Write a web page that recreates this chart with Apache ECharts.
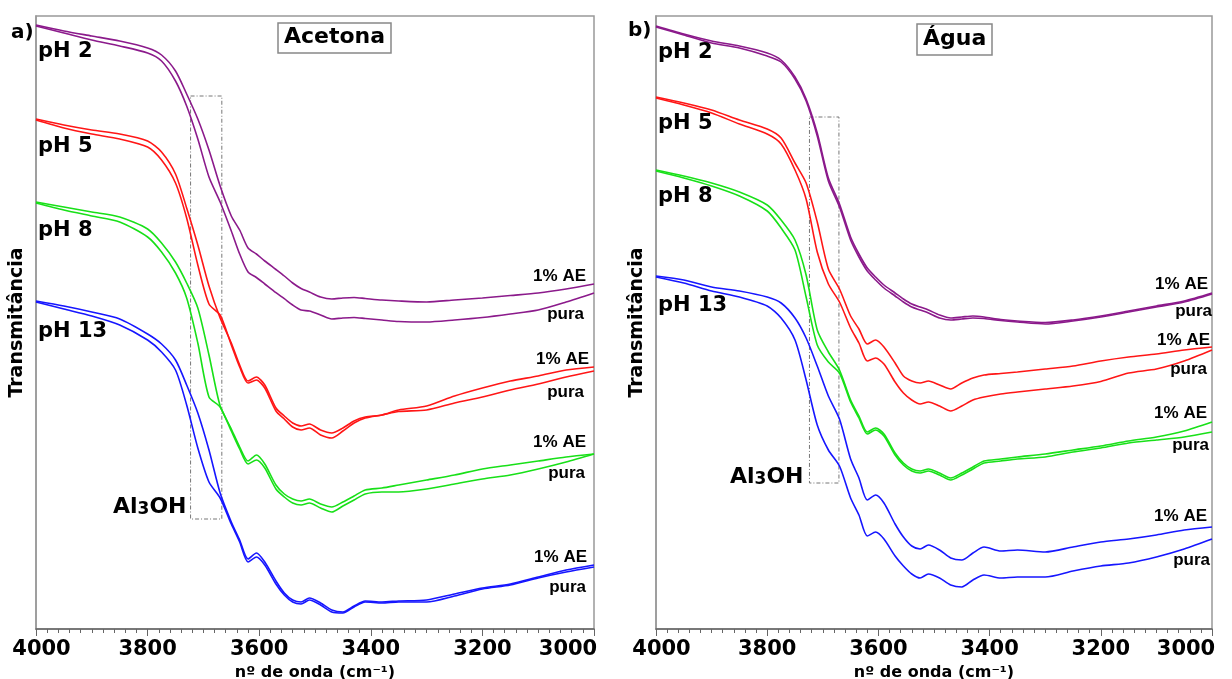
<!DOCTYPE html>
<html><head><meta charset="utf-8">
<script src="https://cdn.jsdelivr.net/npm/echarts@6/dist/echarts.min.js"></script>
<style>html,body{margin:0;padding:0;background:#fff}#c{width:1232px;height:679px}</style>
</head><body><div id="c"></div>
<script>
// ---------- DATA ----------
const wavenumbers = [4000,3950,3900,3850,3800,3775,3750,3730,3710,3690,3670,3650,3635,3620,3605,3590,3570,3555,3540,3525,3510,3490,3470,3450,3430,3410,3380,3350,3300,3250,3200,3150,3100,3050,3000];
const xTicks = [4000,3800,3600,3400,3200,3000];

// a) Acetona (transmittance, arbitrary offset units)
const acetona_pH2_AE   = [604,598,593,588,581,574,558,535,510,479,443,413,399,381,375,368,359.5,353,346,340.5,337,332,330,331,331.5,330.5,329,328,327,329,331,333.5,336,340,345];
const acetona_pH2_pura = [603,596,589,583,576,568,548,523,490,452,427,398,375,357,351.5,345,336.3,330.3,324,319,318,314,310,311,311.5,310.5,309,307.5,307,309,311.5,315,319,327,336];
const acetona_pH5_AE   = [510,504,499,495,488,477,455,421,384,343,311,286,264,248,252,244,221,213,206,203,205,199,196,201,208,212,214,219,223,233,241,248,253,259,262];
const acetona_pH5_pura = [509,501,495,490,482,469,446,411,364,325,314,284,262,246,249,241,218,210,202,199,201,194,191,198,206,211,214,217.5,219,226,232,239,245,252,258];
const acetona_pH8_AE   = [427,422,417,412,400,386,367,346,321,274,223,200,182,168,174,165,144,135,130,128,130,125,122,127,133,139,141,144,149,154,160,164,168,172,175];
const acetona_pH8_pura = [426,419,413,407,392,377,356,331,286,232,222,198,180,165,169,161,140,132,126,124,126,121,117,123,129,135,137,137,140,145,150,154,160,167,175];
const acetona_pH13_AE  = [328,323,317,310,295,285,269,244,216,179,136,107,89,70,76,67,48,36,29,27,31,26,19,17,23,28,27,28,29,35,41,45,52,59,64];
const acetona_pH13_pura= [327,320,313,304,289,277,259,224,181,147,131,105,87,67,72,64,45,34,27,25,29,24,17,16,22,27,26,27,27,33,40,44,51,57,62];

// b) Água
const agua_pH2_AE   = [603,595,588,583,576,569,552,530,496,451,425,392,375,361,352,344,336,330,325,322,319,314,311,312,313,312,309.5,308,306.5,309,313,318,323,328,336];
const agua_pH2_pura = [602,594,586,581,573,567,550,528,493,448,422,389,372,358,349,341,333,327,322,319,316,311,309,310,311,310.5,308.5,307,305,308,312,317,322,327,335];
const agua_pH5_AE   = [532,526,519,509,500,491,466,446,407,360,340,313,300,285,289,282,266,253,248,246,248,244,240,246,251,254,255.5,257,260,263,268,272,275,279,282];
const agua_pH5_pura = [531,524,516,505,495,485,459,430,377,345,327,301,286,268,271,265,247,236,229,225,227,223,218,223,229,232,235,237,240,243,247.5,256,260,268,279];
const agua_pH8_AE   = [459,453,446,437,424,409,389,354,299,277,259,229,213,197,201,195,176,166,160,158,160,156,151,156,162,168,170,172,175,179,183,188,192,198,207];
const agua_pH8_pura = [458,451,443,433,418,401,379,332,284,267,256,227,211,195,199,193,174,164,158,156,158,154,149,154,160,166,168,170,172,177,181,186,189,192,197];
const agua_pH13_AE  = [353,349,342,338,332,326,311,291,263,233,210,170,151,129,134,126,105,92,83,80,84,79,71,69,76,82,78,79,77,82,87,90,94,99,102];
const agua_pH13_pura= [352,346,338,332,323,311,289,249,204,179,163,131,114,93,97,90,73,63,55,51,55,51,44,42,49,54,51,52,52,58,63,66,72,80,90];

// Al3OH region boxes [wn1, T1, wn2, T2]
const boxAcetona = [3723, 533, 3667, 110];
const boxAgua    = [3724, 512, 3671, 146];

// ---------- STYLE / LAYOUT ----------
const FONT = 'DejaVu Sans';
const COL = {pH2:'#8b1a8b', pH5:'#ff1616', pH8:'#18e018', pH13:'#1616ff'};
const grids = [
  {left:36, top:16, width:558, height:613, show:true, borderColor:'#999', borderWidth:1.5, containLabel:false, outerBoundsMode:'none'},
  {left:656, top:16, width:556, height:613, show:true, borderColor:'#999', borderWidth:1.5, containLabel:false, outerBoundsMode:'none'}
];
function pairs(v){ return wavenumbers.map((w,i)=>[w, v[i]]); }

const panelSeries = [
  [[acetona_pH2_AE,'pH2'],[acetona_pH2_pura,'pH2'],[acetona_pH5_AE,'pH5'],[acetona_pH5_pura,'pH5'],
   [acetona_pH8_AE,'pH8'],[acetona_pH8_pura,'pH8'],[acetona_pH13_AE,'pH13'],[acetona_pH13_pura,'pH13']],
  [[agua_pH2_AE,'pH2'],[agua_pH2_pura,'pH2'],[agua_pH5_AE,'pH5'],[agua_pH5_pura,'pH5'],
   [agua_pH8_AE,'pH8'],[agua_pH8_pura,'pH8'],[agua_pH13_AE,'pH13'],[agua_pH13_pura,'pH13']]
];
const boxes = [boxAcetona, boxAgua];

const series = [];
panelSeries.forEach((list, gi) => {
  list.forEach((s, k) => {
    const o = {
      type:'line', xAxisIndex:gi, yAxisIndex:gi, data:pairs(s[0]),
      showSymbol:false, smooth:0.25, silent:true,
      lineStyle:{color:COL[s[1]], width:1.6}, z:3
    };
    if (k === 0) {
      const b = boxes[gi];
      o.markArea = {silent:true, label:{show:false},
        itemStyle:{color:'rgba(0,0,0,0)', borderColor:'#777', borderWidth:1, borderType:[4,2,1,2]},
        data:[[{coord:[b[0], b[1]]},{coord:[b[2], b[3]]}]]};
    }
    series.push(o);
  });
});

function xAxis(gi){
  return {
    gridIndex:gi, type:'value', min:3000, max:4000, inverse:true, interval:200,
    axisLine:{show:true, lineStyle:{color:'#666', width:1.5}},
    axisTick:{show:true, length:7, lineStyle:{color:'#666', width:1}},
    minorTick:{show:true, splitNumber:10, length:4, lineStyle:{color:'#666', width:1}},
    splitLine:{show:false}, minorSplitLine:{show:false},
    axisLabel:{margin:10, color:'#000', fontSize:21, fontWeight:'bold', fontFamily:FONT,
      formatter:(v)=> v===4000 ? '{l|4000}' : (v===3000 ? '{r|3000}' : String(v)),
      rich:{
        l:{padding:[0,0,0,11], fontSize:21, fontWeight:'bold', fontFamily:FONT, color:'#000'},
        r:{padding:[0,52,0,0], fontSize:21, fontWeight:'bold', fontFamily:FONT, color:'#000'}
      }},
    name:'nº de onda (cm⁻¹)', nameLocation:'middle', nameGap:28,
    nameTextStyle:{fontSize:16, fontWeight:'bold', color:'#000', fontFamily:FONT}
  };
}
function yAxis(gi){
  return {
    gridIndex:gi, type:'value', min:0, max:613,
    axisLine:{show:true, lineStyle:{color:'#999', width:1.5}},
    axisTick:{show:false}, axisLabel:{show:false}, splitLine:{show:false},
    name:'Transmitância', nameLocation:'middle', nameRotate:90, nameGap:9,
    nameTextStyle:{fontSize:19, fontWeight:'bold', color:'#000', fontFamily:FONT}
  };
}

const titleStyle = {fontFamily:FONT, fontSize:22, fontWeight:'bold', color:'#000', lineHeight:25};
const chart = echarts.init(document.getElementById('c'));

// text annotations: [text, x, y, fontSize, align, family]
const annots = [
  ['a)', 11, 33, 20, 'left', FONT], ['b)', 628, 31, 20, 'left', FONT],
  ['pH 2', 38, 52, 21, 'left', FONT], ['pH 5', 38, 147, 21, 'left', FONT],
  ['pH 8', 38, 231, 21, 'left', FONT], ['pH 13', 38, 332, 21, 'left', FONT],
  ['pH 2', 658, 53, 21, 'left', FONT], ['pH 5', 658, 124, 21, 'left', FONT],
  ['pH 8', 658, 197, 21, 'left', FONT], ['pH 13', 658, 306, 21, 'left', FONT],
  ['1% AE', 586, 276, 17, 'right', 'Liberation Sans'], ['pura', 584, 314, 17, 'right', 'Liberation Sans'],
  ['1% AE', 589, 359, 17, 'right', 'Liberation Sans'], ['pura', 584, 392, 17, 'right', 'Liberation Sans'],
  ['1% AE', 586, 442, 17, 'right', 'Liberation Sans'], ['pura', 585, 473, 17, 'right', 'Liberation Sans'],
  ['1% AE', 587, 557, 17, 'right', 'Liberation Sans'], ['pura', 586, 587, 17, 'right', 'Liberation Sans'],
  ['1% AE', 1208, 284, 17, 'right', 'Liberation Sans'], ['pura', 1212, 311, 17, 'right', 'Liberation Sans'],
  ['1% AE', 1210, 340, 17, 'right', 'Liberation Sans'], ['pura', 1207, 369, 17, 'right', 'Liberation Sans'],
  ['1% AE', 1207, 413, 17, 'right', 'Liberation Sans'], ['pura', 1209, 445, 17, 'right', 'Liberation Sans'],
  ['1% AE', 1207, 516, 17, 'right', 'Liberation Sans'], ['pura', 1210, 560, 17, 'right', 'Liberation Sans']
];
const graphics = annots.map(a => ({
  type:'text', x:a[1], y:a[2], z:10, silent:true,
  style:{text:a[0], font:'bold '+a[3]+'px "'+a[5]+'"', fill:'#000', align:a[4], verticalAlign:'middle'}
}));
const alohPos = [[113, 507], [730, 477]];
alohPos.forEach(p => graphics.push({
  type:'text', x:p[0], y:p[1], z:10, silent:true,
  style:{text:'{n|Al}{s|3}{n|OH}', align:'left', verticalAlign:'middle', fill:'#000',
    rich:{n:{fontFamily:FONT, fontSize:22, fontWeight:'bold', lineHeight:22, verticalAlign:'bottom', fill:'#000'},
          s:{fontFamily:FONT, fontSize:17, fontWeight:'bold', lineHeight:12, verticalAlign:'bottom', fill:'#000'}}}
}));

chart.setOption({
  backgroundColor:'#fff',
  animation:false,
  title:[
    {text:'Acetona', left:278, top:23, padding:[2,6,3,6], borderColor:'#888', borderWidth:1.5, textStyle:titleStyle},
    {text:'Água', left:917, top:24, padding:[3,6,3,6], borderColor:'#888', borderWidth:1.5, textStyle:titleStyle}
  ],
  grid:grids,
  xAxis:[xAxis(0), xAxis(1)],
  yAxis:[yAxis(0), yAxis(1)],
  series:series,
  graphic:graphics
});
</script></body></html>
